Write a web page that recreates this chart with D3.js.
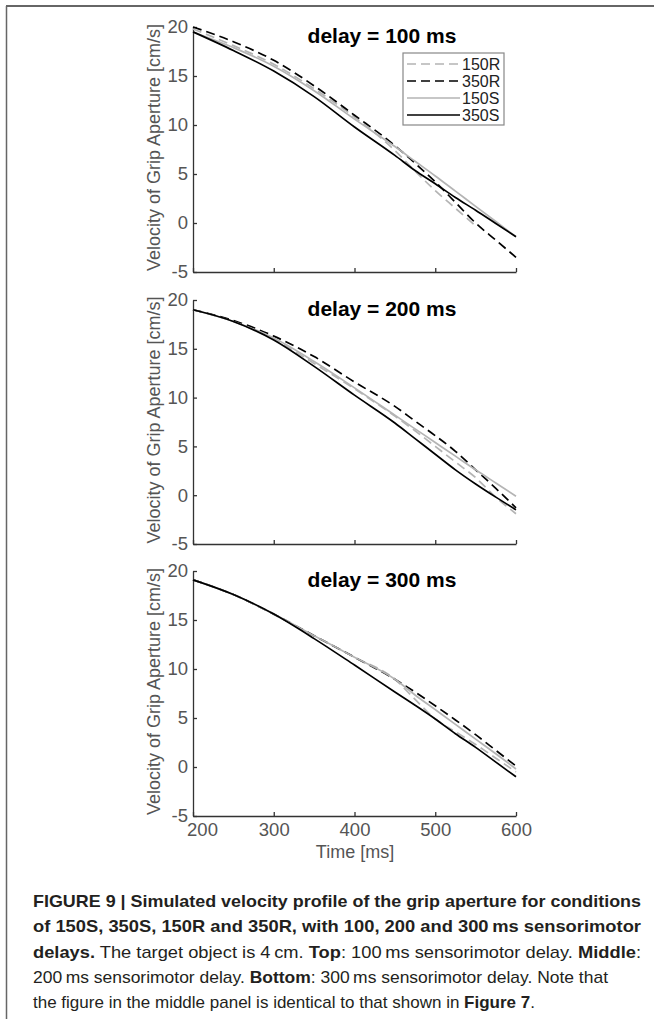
<!DOCTYPE html>
<html>
<head>
<meta charset="utf-8">
<script src="https://cdnjs.cloudflare.com/ajax/libs/d3/7.8.5/d3.min.js"></script>
<style>
  body { margin: 0; background: #fff; }
  text { font-family: "Liberation Sans", Arial, sans-serif; }
</style>
</head>
<body>
<div id="chart"></div>
<script>
// data (velocity in cm/s)
var timeMs = [200, 250, 300, 350, 400, 450, 475, 500, 525, 550, 575, 600];
var seriesNames = ["150R", "350R", "150S", "350S"];
var panelTitles = ["delay = 100 ms", "delay = 200 ms", "delay = 300 ms"];
var yTicks = [-5, 0, 5, 10, 15, 20];
var xTicks = [200, 300, 400, 500, 600];

var d100_150R = [19.8, 18.1, 16.2, 13.7, 10.8, 7.4, 5.3, 3.3, 1.5, -0.3, null, null];
var d100_350R = [20.0, 18.5, 16.6, 14.0, 11.0, 7.9, 6.1, 4.2, 2.1, 0.0, -1.75, -3.5];
var d100_150S = [19.5, 17.9, 16.0, 13.5, 10.6, 7.8, 6.3, 4.8, 3.25, 1.7, 0.15, -1.4];
var d100_350S = [19.5, 17.6, 15.5, 12.9, 9.8, 6.9, 5.35, 4.0, 2.6, 1.3, -0.05, -1.4];

var d200_150R = [19.0, 17.8, 16.0, 13.5, 10.9, 8.1, 6.6, 5.0, 3.4, 1.8, -0.2, -1.9];
var d200_350R = [19.0, 17.9, 16.3, 14.2, 11.6, 9.1, 7.6, 6.1, 4.5, 2.6, 0.7, -1.3];
var d200_150S = [19.0, 17.8, 16.1, 13.7, 11.0, 8.2, 6.8, 5.4, 4.0, 2.6, 1.25, -0.1];
var d200_350S = [19.0, 17.8, 15.9, 13.2, 10.25, 7.4, 5.8, 4.2, 2.6, 1.15, -0.2, -1.5];

var d300_150R = [19.1, 17.6, 15.6, 13.4, 11.2, 8.95, 6.9, 4.9, 3.6, 2.3, 0.9, -0.5];
var d300_350R = [19.1, 17.6, 15.6, 13.4, 11.2, 8.95, 7.65, 6.25, 4.8, 3.3, 1.7, 0.1];
var d300_150S = [19.1, 17.6, 15.6, 13.4, 11.2, 8.95, 7.35, 5.85, 4.35, 2.85, 1.35, -0.2];
var d300_350S = [19.1, 17.6, 15.6, 13.1, 10.4, 7.65, 6.3, 4.9, 3.4, 2.0, 0.5, -1.0];

var panelData = [
  [d100_150R, d100_350R, d100_150S, d100_350S],
  [d200_150R, d200_350R, d200_150S, d200_350S],
  [d300_150R, d300_350R, d300_150S, d300_350S]
];

// line styles per condition
var lineColor = {"150R": "#b4b4b4", "350R": "#000", "150S": "#b4b4b4", "350S": "#000"};
var lineDash = {"150R": "9,5", "350R": "9,5", "150S": null, "350S": null};

var width = 654, height = 1019;
var axisColor = "#333", labelColor = "#555";

var svg = d3.select("#chart")
  .append("svg")
  .attr("width", width)
  .attr("height", height);

svg.append("rect").attr("width", width).attr("height", height).attr("fill", "#fff");

// frame of the figure box
svg.append("line").attr("x1", 6).attr("x2", width).attr("y1", 6).attr("y2", 6)
  .attr("stroke", "#333").attr("stroke-width", 1.5);
svg.append("line").attr("x1", 6.5).attr("x2", 6.5).attr("y1", 6).attr("y2", height)
  .attr("stroke", "#666").attr("stroke-width", 1.5);

var x = d3.scaleLinear().domain([200, 600]).range([193, 516]);

// panel vertical extents (top = 20, bottom = -5)
var panelTop = [27, 300, 571];
var panelBottom = [272, 544, 816];

panelData.forEach(function(series, p) {
  var y = d3.scaleLinear().domain([-5, 20]).range([panelBottom[p], panelTop[p]]);
  var g = svg.append("g");

  // y axis
  var ya = g.append("g")
    .attr("transform", "translate(" + x(200) + ",0)")
    .call(d3.axisLeft(y).tickValues(yTicks).tickSizeInner(-4).tickSizeOuter(0).tickPadding(5)
      .tickFormat(function(d) { return String(d); }));
  ya.select(".domain").attr("stroke", axisColor).attr("stroke-width", 1.3);
  ya.selectAll(".tick line").attr("stroke", axisColor).attr("stroke-width", 1.3);
  ya.selectAll(".tick text").attr("fill", labelColor).style("font-size", "18.5px")
    .attr("font-family", null);

  // x axis
  var xa = g.append("g")
    .attr("transform", "translate(0," + panelBottom[p] + ")")
    .call(d3.axisBottom(x).tickValues(xTicks).tickSizeInner(-4).tickSizeOuter(0).tickPadding(7)
      .tickFormat(function(d) { return p == 2 ? String(d) : ""; }));
  xa.select(".domain").attr("stroke", axisColor).attr("stroke-width", 1.3);
  xa.selectAll(".tick line").attr("stroke", axisColor).attr("stroke-width", 1.3);
  xa.selectAll(".tick text").attr("fill", labelColor).style("font-size", "18.5px")
    .attr("font-family", null)
    .attr("dx", function(d) { return d == 200 ? 9 : 0; });

  // y label
  var yc = (panelTop[p] + panelBottom[p]) / 2 - 2;
  g.append("text")
    .attr("transform", "translate(160," + yc + ") rotate(-90)")
    .attr("text-anchor", "middle")
    .attr("fill", labelColor)
    .style("font-size", "18px")
    .text("Velocity of Grip Aperture [cm/s]");

  // title
  g.append("text")
    .attr("x", 382)
    .attr("y", panelTop[p] + 15.5)
    .attr("text-anchor", "middle")
    .attr("font-weight", "bold")
    .attr("fill", "#000")
    .style("font-size", "21px")
    .text(panelTitles[p]);

  // curves
  var line = d3.line()
    .defined(function(d) { return d[1] != null; })
    .x(function(d) { return x(d[0]); })
    .y(function(d) { return y(d[1]); })
    .curve(d3.curveMonotoneX);

  series.forEach(function(vals, i) {
    var name = seriesNames[i];
    g.append("path")
      .datum(timeMs.map(function(t, k) { return [t, vals[k]]; }))
      .attr("fill", "none")
      .attr("stroke", lineColor[name])
      .attr("stroke-width", 1.7)
      .attr("stroke-dasharray", lineDash[name])
      .attr("d", line);
  });

  // legend only in the top panel
  if (p == 0) {
    var lg = g.append("g");
    lg.append("rect")
      .attr("x", 403).attr("y", 53).attr("width", 101).attr("height", 72)
      .attr("fill", "#fff").attr("stroke", "#888").attr("stroke-width", 1.2);
    seriesNames.forEach(function(name, i) {
      var ly = 64 + i * 17;
      lg.append("line")
        .attr("x1", 407).attr("x2", 460).attr("y1", ly).attr("y2", ly)
        .attr("stroke", lineColor[name]).attr("stroke-width", 1.7)
        .attr("stroke-dasharray", lineDash[name]);
      lg.append("text")
        .attr("x", 462).attr("y", ly).attr("dy", "0.35em")
        .attr("fill", "#222")
        .style("font-size", "16px")
        .text(name);
    });
  }
});

// x axis title
svg.append("text")
  .attr("x", 355)
  .attr("y", 858)
  .attr("text-anchor", "middle")
  .attr("fill", labelColor)
  .style("font-size", "18px")
  .text("Time [ms]");

// caption, each line as [text, bold] pieces
var captionLines = [
  [["FIGURE 9 | Simulated velocity profile of the grip aperture for conditions", true]],
  [["of 150S, 350S, 150R and 350R, with 100, 200 and 300\u2009ms sensorimotor", true]],
  [["delays.", true], [" The target object is 4\u2009cm. ", false], ["Top", true],
   [": 100\u2009ms sensorimotor delay. ", false], ["Middle", true], [":", false]],
  [["200\u2009ms sensorimotor delay. ", false], ["Bottom", true],
   [": 300\u2009ms sensorimotor delay. Note that", false]],
  [["the figure in the middle panel is identical to that shown in ", false],
   ["Figure 7", true], [".", false]]
];
var captionWidths = [608, 608, 608, 575, 502];

captionLines.forEach(function(parts, i) {
  var t = svg.append("text")
    .attr("x", 33)
    .attr("y", 907 + i * 25.3)
    .attr("fill", "#231f20")
    .style("font-size", "17px")
    .attr("textLength", captionWidths[i])
    .attr("lengthAdjust", "spacingAndGlyphs");
  parts.forEach(function(part) {
    t.append("tspan")
      .attr("font-weight", part[1] ? "bold" : "normal")
      .text(part[0]);
  });
});
</script>
</body>
</html>
